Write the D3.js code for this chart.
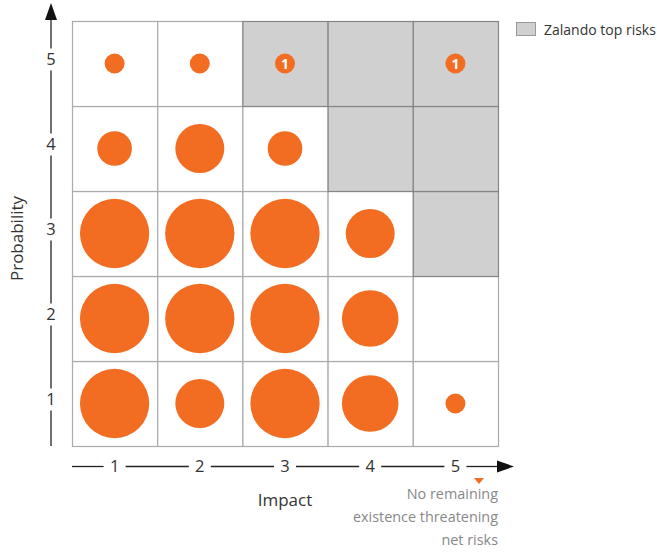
<!DOCTYPE html>
<html>
<head>
<meta charset="utf-8">
<script src="https://cdn.jsdelivr.net/npm/d3@7"></script>
<style>
  html, body { margin: 0; padding: 0; background: #fff; }
  svg { display: block; }
  text { font-family: "Open Sans", "Noto Sans", sans-serif; }
</style>
</head>
<body>
<svg id="chart" width="657" height="552"></svg>
<script>
// Risk matrix: impact (x) against probability (y)
const impactLevels = [1, 2, 3, 4, 5];
const probabilityLevels = [1, 2, 3, 4, 5];

// Cells flagged as top risks [impact, probability]
const topRiskCells = [[3, 5], [4, 5], [5, 5], [4, 4], [5, 4], [5, 3]];

// Number of risks per cell [impact, probability, count]
const riskCounts = [
  [1, 5, 1], [2, 5, 1],
  [1, 4, 3], [2, 4, 6], [3, 4, 3],
  [1, 3, 12], [2, 3, 12], [3, 3, 12], [4, 3, 6],
  [1, 2, 12], [2, 2, 12], [3, 2, 12], [4, 2, 8],
  [1, 1, 12], [2, 1, 6], [3, 1, 12], [4, 1, 8], [5, 1, 1]
];

// Top risks labelled with their count [impact, probability, count]
const labelledRisks = [[3, 5, 1], [5, 5, 1]];

const legendLabel = "Zalando top risks";
const xTitle = "Impact";
const yTitle = "Probability";
const noteLines = ["No remaining", "existence threatening", "net risks"];

const orange = "#f26c22";
const grey = "#d0d0d0";

const svg = d3.select("#chart");

const grid = { left: 72, right: 498, top: 21, bottom: 446 };

const x = d3.scaleBand().domain(impactLevels).range([grid.left, grid.right]).padding(0);
const y = d3.scaleBand().domain(probabilityLevels.slice().reverse()).range([grid.top, grid.bottom]).padding(0);
const r = d3.scaleSqrt().domain([0, 1]).range([0, 10]);

const isTop = (i, p) => topRiskCells.some(c => c[0] === i && c[1] === p);

// cells
const cells = [];
probabilityLevels.forEach(p => impactLevels.forEach(i => cells.push({ i, p, top: isTop(i, p) })));

svg.append("g").selectAll("rect")
  .data(cells.filter(c => !c.top))
  .join("rect")
  .attr("x", d => x(d.i) + 0.5)
  .attr("y", d => y(d.p) + 0.5)
  .attr("width", x.bandwidth())
  .attr("height", y.bandwidth())
  .attr("fill", "#fff")
  .attr("stroke", "#aaaaaa")
  .attr("stroke-width", 1.2);

svg.append("g").selectAll("rect")
  .data(cells.filter(c => c.top))
  .join("rect")
  .attr("x", d => x(d.i) + 0.5)
  .attr("y", d => y(d.p) + 0.5)
  .attr("width", x.bandwidth())
  .attr("height", y.bandwidth())
  .attr("fill", grey)
  .attr("stroke", "#858585")
  .attr("stroke-width", 1.2);

// bubbles
svg.append("g").selectAll("circle")
  .data(riskCounts)
  .join("circle")
  .attr("cx", d => x(d[0]) + x.bandwidth() / 2)
  .attr("cy", d => y(d[1]) + y.bandwidth() / 2)
  .attr("r", d => r(d[2]))
  .attr("fill", orange);

// labelled top-risk badges
const badges = svg.append("g").selectAll("g")
  .data(labelledRisks)
  .join("g")
  .attr("transform", d => `translate(${x(d[0]) + x.bandwidth() / 2},${y(d[1]) + y.bandwidth() / 2})`);
badges.append("circle").attr("r", 10).attr("fill", orange);
badges.append("text")
  .attr("text-anchor", "middle")
  .attr("dy", "0.36em")
  .attr("fill", "#fff")
  .attr("font-size", 14)
  .attr("font-weight", 700)
  .text(d => d[2]);

// y axis: vertical line broken around the tick labels, with an arrow head
const yAxisX = 51;
const gap = 11;
const yLabelPos = p => y(p) + y.bandwidth() / 2 - 4;
const yStops = [grid.bottom, ...probabilityLevels.map(yLabelPos), grid.top - 1];
const yAx = svg.append("g").attr("stroke", "#222").attr("stroke-width", 1.3);
for (let k = 0; k < yStops.length - 1; k++) {
  const a = yStops[k] - (k === 0 ? 0 : gap);
  const b = yStops[k + 1] + (k === yStops.length - 2 ? 0 : gap);
  yAx.append("line").attr("x1", yAxisX).attr("x2", yAxisX).attr("y1", a).attr("y2", b);
}
svg.append("path")
  .attr("d", `M${yAxisX - 6},${grid.top - 1}L${yAxisX},${grid.top - 18}L${yAxisX + 6},${grid.top - 1}Z`)
  .attr("fill", "#111");
svg.append("g").selectAll("text")
  .data(probabilityLevels)
  .join("text")
  .attr("x", yAxisX)
  .attr("y", d => yLabelPos(d))
  .attr("dy", "0.36em")
  .attr("text-anchor", "middle")
  .attr("font-size", 16.5)
  .attr("fill", "#333")
  .text(d => d);

// x axis: horizontal line broken around the tick labels, with an arrow head
const xAxisY = 466.5;
const xLabelPos = i => x(i) + x.bandwidth() / 2;
const xStops = [grid.left, ...impactLevels.map(xLabelPos), grid.right];
const xAx = svg.append("g").attr("stroke", "#222").attr("stroke-width", 1.3);
for (let k = 0; k < xStops.length - 1; k++) {
  const a = xStops[k] + (k === 0 ? 0 : gap);
  const b = xStops[k + 1] - (k === xStops.length - 2 ? 0 : gap);
  xAx.append("line").attr("x1", a).attr("x2", b).attr("y1", xAxisY).attr("y2", xAxisY);
}
svg.append("path")
  .attr("d", `M${grid.right - 1},${xAxisY - 6}L${grid.right + 16},${xAxisY}L${grid.right - 1},${xAxisY + 6}Z`)
  .attr("fill", "#111");
svg.append("g").selectAll("text")
  .data(impactLevels)
  .join("text")
  .attr("x", d => xLabelPos(d))
  .attr("y", xAxisY)
  .attr("dy", "0.36em")
  .attr("text-anchor", "middle")
  .attr("font-size", 16.5)
  .attr("fill", "#333")
  .text(d => d);

// axis titles
svg.append("text")
  .attr("x", x(3) + x.bandwidth() / 2)
  .attr("y", 506)
  .attr("text-anchor", "middle")
  .attr("font-size", 17)
  .attr("fill", "#333")
  .text(xTitle);

svg.append("text")
  .attr("transform", `translate(23,${(grid.top + grid.bottom) / 2 + 5}) rotate(-90)`)
  .attr("text-anchor", "middle")
  .attr("font-size", 17)
  .attr("fill", "#333")
  .text(yTitle);

// marker and note below the last impact level
svg.append("path")
  .attr("d", `M${grid.right - 24},${478}L${grid.right - 14},${478}L${grid.right - 19},${484}Z`)
  .attr("fill", orange);
svg.append("g").selectAll("text")
  .data(noteLines)
  .join("text")
  .attr("x", grid.right)
  .attr("y", (d, k) => 499 + k * 23)
  .attr("text-anchor", "end")
  .attr("font-size", 14.4)
  .attr("fill", "#888")
  .text(d => d);

// legend
svg.append("rect")
  .attr("x", 516.5).attr("y", 22.5).attr("width", 19).attr("height", 13)
  .attr("fill", grey).attr("stroke", "#999").attr("stroke-width", 1);
svg.append("text")
  .attr("x", 544).attr("y", 35)
  .attr("font-size", 14)
  .attr("fill", "#333")
  .text(legendLabel);
</script>
</body>
</html>
